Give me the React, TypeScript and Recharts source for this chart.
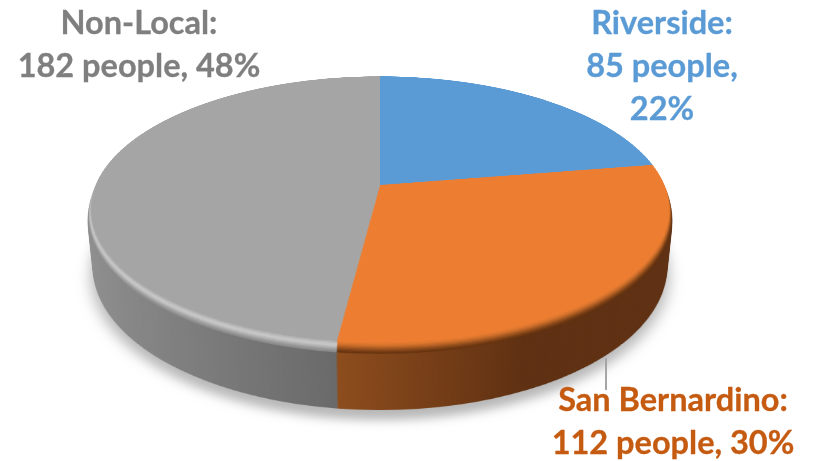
import React from "react";
import { PieChart, Pie, Cell } from "recharts";

const names = ["Riverside", "San Bernardino", "Non-Local"];
const people = [85, 112, 182];
const percents = [22, 30, 48];
const faceColors = ["#5b9bd5", "#ed7d31", "#a5a5a5"];
const labelColors = ["#5b9bd5", "#c55a11", "#7f7f7f"];
const sideFills = ["#3f6f9c", "url(#sideOrange)", "url(#sideGray)"];
const bevelBlue = ["#3d6c98", "#416f9c", "#4676a5", "#4a7fae", "#4e86b8", "#528dc2", "#5592ca", "#5896cf", "#5a99d3", "#5b9bd5"];
const bevelOrange = ["#67340f", "#733b13", "#844518", "#98511d", "#ad5c22", "#c16727", "#d2712b", "#df772e", "#e87b30", "#ed7d31"];
const bevelGray = ["#8a8a8a", "#949494", "#a0a0a0", "#aeaeae", "#bcbcbc", "#c6c6c6", "#c4c4c4", "#bababa", "#afafaf", "#a7a7a7"];

const chartData = names.map((name, i) => ({ name, value: people[i] }));

const C = 320;
const R = 288;
const DEPTH = 65;
const BEVEL_DEPTH = 10;
const BEVEL_INSET = 4;
const sideSteps = Array.from({ length: DEPTH - BEVEL_DEPTH }, (_, i) => DEPTH - i);
const bevelSteps = bevelGray.map((_, i) => i);

function Layer({ z, radius, fills, extra }: { z: number; radius: number; fills: string[]; extra?: React.CSSProperties }) {
  return (
    <div
      style={{
        position: "absolute",
        left: 380 - C,
        top: 185 - C,
        width: 2 * C,
        height: 2 * C,
        transformOrigin: "50% 50%",
        transform: `perspective(1388px) rotateX(63.1deg) translateZ(${z}px)`,
        ...extra,
      }}
    >
      <PieChart width={2 * C} height={2 * C} margin={{ top: 0, right: 0, bottom: 0, left: 0 }}>
        <defs>
          <linearGradient id="sideGray" gradientUnits="userSpaceOnUse" x1={37} y1={0} x2={287} y2={0}>
            <stop offset="0" stopColor="#909090" />
            <stop offset="1" stopColor="#696969" />
          </linearGradient>
          <linearGradient id="sideOrange" gradientUnits="userSpaceOnUse" x1={287} y1={0} x2={440} y2={0}>
            <stop offset="0" stopColor="#8c4c1c" />
            <stop offset="1" stopColor="#5f3012" />
          </linearGradient>
        </defs>
        <Pie
          data={chartData}
          dataKey="value"
          nameKey="name"
          cx={C}
          cy={C}
          innerRadius={0}
          outerRadius={radius}
          startAngle={90}
          endAngle={-270}
          stroke="none"
          label={false}
          labelLine={false}
          isAnimationActive={false}
        >
          {chartData.map((d, i) => (
            <Cell key={d.name} fill={fills[i]} stroke="none" />
          ))}
        </Pie>
      </PieChart>
    </div>
  );
}

const labelBase: React.CSSProperties = {
  position: "absolute",
  fontFamily: "Lato, sans-serif",
  fontWeight: 700,
  fontSize: 32.5,
  lineHeight: "43px",
  textAlign: "center",
  whiteSpace: "nowrap",
  WebkitTextStroke: "0.3px currentColor",
  transform: "translateX(-50%)",
};

export default function App() {
  return (
    <div style={{ position: "absolute", left: 0, top: 0, width: 814, height: 461, overflow: "hidden", background: "#fff" }}>
      <Layer
        z={-DEPTH - 8}
        radius={R + 3}
        fills={["#000", "#000", "#000"]}
        extra={{ filter: "blur(7px)", opacity: 0.28 }}
      />
      {sideSteps.map((z) => (
        <Layer key={z} z={-z} radius={R} fills={sideFills} />
      ))}
      {bevelSteps.map((k) => (
        <Layer
          key={k}
          z={-BEVEL_DEPTH + ((k + 1) * BEVEL_DEPTH) / bevelSteps.length}
          radius={R - ((k + 1) * BEVEL_INSET) / bevelSteps.length}
          fills={[bevelBlue[k], bevelOrange[k], bevelGray[k]]}
        />
      ))}
      <Layer z={0} radius={R - BEVEL_INSET} fills={faceColors} />

      <div style={{ position: "absolute", left: 605, top: 358, width: 2, height: 32, background: "#a6a6a6" }} />

      <div style={{ ...labelBase, left: 139, top: 0, color: labelColors[2] }}>
        <div>{names[2]}:</div>
        <div>{people[2]} people, {percents[2]}%</div>
      </div>
      <div style={{ ...labelBase, left: 662, top: 0, color: labelColors[0] }}>
        <div>{names[0]}:</div>
        <div>{people[0]} people,</div>
        <div>{percents[0]}%</div>
      </div>
      <div style={{ ...labelBase, left: 673, top: 377, color: labelColors[1] }}>
        <div>{names[1]}:</div>
        <div>{people[1]} people, {percents[1]}%</div>
      </div>
    </div>
  );
}
